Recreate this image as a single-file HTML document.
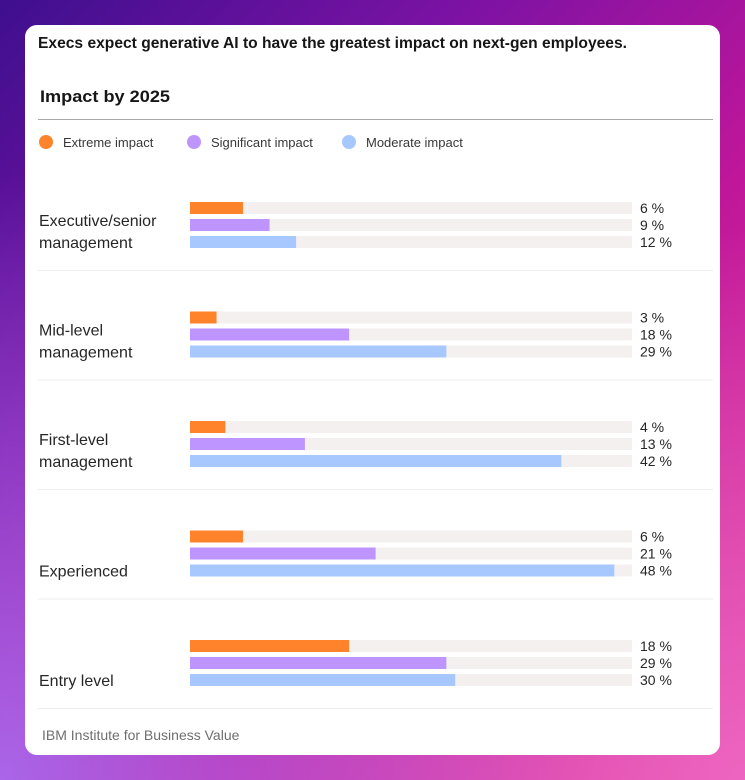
<!DOCTYPE html>
<html><head><meta charset="utf-8"><style>
html,body{margin:0;padding:0}
body{width:745px;height:780px;overflow:hidden;position:relative;font-family:"Liberation Sans",sans-serif;
background:linear-gradient(135deg,#3e0f8e 0%,#7a12a4 30%,#c0169a 60%,#e0409e 100%);}
#glow{position:absolute;inset:0;background:radial-gradient(ellipse at 0% 100%,rgba(170,110,240,.9) 0%,rgba(170,110,240,0) 55%),radial-gradient(ellipse at 100% 100%,rgba(240,110,200,.8) 0%,rgba(240,110,200,0) 50%)}
#card{position:absolute;left:25px;top:25px;width:695px;height:730px;background:#fff;border-radius:12px}
#chart{position:absolute;left:0;top:0}
</style></head><body>
<div id="glow"></div>
<div id="card"></div>
<svg id="chart" width="745" height="780"></svg>
<script>
const categories=[["Executive/senior","management"],["Mid-level","management"],["First-level","management"],["","Experienced"],["","Entry level"]];
const extreme=[6,3,4,6,18];
const significant=[9,18,13,21,29];
const moderate=[12,29,42,48,30];
const seriesNames=["Extreme  impact","Significant impact","Moderate impact"];
const colors=["#ff832b","#be95ff","#a6c8ff"];
const svg=document.getElementById('chart');
const NS='http://www.w3.org/2000/svg';
function mk(t,a,txt){const e=document.createElementNS(NS,t);for(const k in a)e.setAttribute(k,a[k]);if(txt!==undefined)e.textContent=txt;svg.appendChild(e);return e;}
const x0=190,xMax=632,vMax=50;
const xs=v=>x0+(xMax-x0)*v/vMax;
const groupTop=i=>202+i*109.5;
let e;
e=mk('text',{x:38,y:48,'font-size':16,'font-weight':'bold',fill:'#161616',textLength:589,lengthAdjust:'spacingAndGlyphs'},'Execs expect generative AI to have the greatest impact on next-gen employees.');

e=mk('text',{x:40,y:102,'font-size':17,'font-weight':'bold',fill:'#161616',textLength:130,lengthAdjust:'spacingAndGlyphs'},'Impact by 2025');

e=mk('line',{x1:38,x2:713,y1:119.5,y2:119.5,stroke:'#a8a8a8','stroke-width':1});

const legX=[46,194,349];
seriesNames.forEach((n,i)=>{
  e=mk('circle',{cx:legX[i],cy:142,r:7,fill:colors[i]});
  
  e=mk('text',{x:legX[i]+17,y:147,'font-size':13,fill:'#393939'},n);
  
});
const series=[extreme,significant,moderate];
categories.forEach((c,i)=>{
  const t=groupTop(i);
  e=mk('text',{x:39,y:t+24,'font-size':16,fill:'#262626'},c[0]);
  
  e=mk('text',{x:39,y:t+46,'font-size':16,fill:'#262626'},c[1]);
  
  series.forEach((s,j)=>{
    const y=t+j*17;
    e=mk('rect',{x:x0,y:y,width:xMax-x0,height:12,fill:'#f4f0ef'});
    
    e=mk('rect',{x:x0,y:y,width:xs(s[i])-x0,height:12,fill:colors[j]});
    
    e=mk('text',{x:640,y:y+11,'font-size':14,fill:'#262626'},s[i]+' %');
    
  });
  e=mk('line',{x1:38,x2:713,y1:t+68.5,y2:t+68.5,stroke:'#eeeeee','stroke-width':1});
  
});
e=mk('text',{x:42,y:740,'font-size':14,fill:'#6f6f6f'},'IBM Institute for Business Value');

</script>
</body></html>
